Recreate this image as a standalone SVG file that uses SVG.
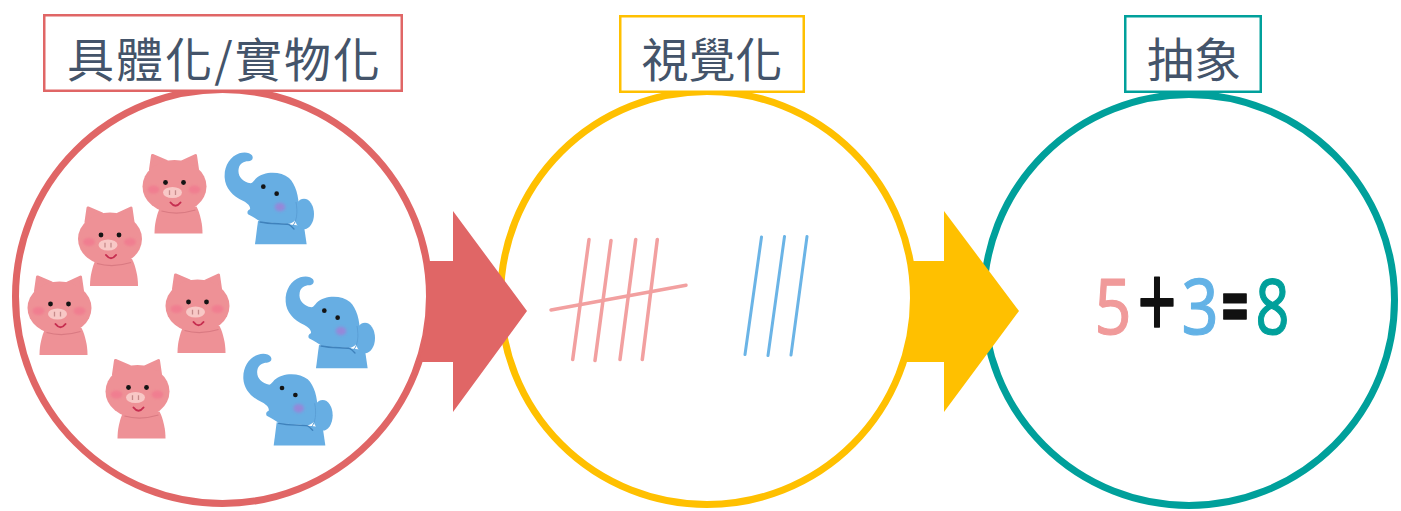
<svg xmlns="http://www.w3.org/2000/svg" width="1401" height="511" viewBox="0 0 1401 511">
  <style>
    .ring { fill: #ffffff; stroke-width: 7; }
    .tag { fill: #ffffff; stroke-width: 2.5; }
    .title { font-family: "Noto Sans CJK TC", "Noto Sans CJK SC", sans-serif; font-size: 47px; fill: #44546A; text-anchor: middle; dominant-baseline: central; }
    .red { stroke: #E06666; }
    .yellow { stroke: #FFC000; }
    .teal { stroke: #00A09B; }
    .tally-pink { stroke: #F2A0A0; stroke-width: 3.5; stroke-linecap: round; }
    .tally-blue { stroke: #6BB4E6; stroke-width: 3; stroke-linecap: round; }
    .eq { font-family: "Noto Sans", "DejaVu Sans", sans-serif; font-size: 76px; text-anchor: middle; stroke-width: 1.2; stroke-linejoin: round; }
  </style>
  <defs>
    <filter id="blushP" x="-50%" y="-50%" width="200%" height="200%"><feGaussianBlur stdDeviation="1.3"/></filter>
    <filter id="blushE" x="-50%" y="-50%" width="200%" height="200%"><feGaussianBlur stdDeviation="4"/></filter>
    <!-- pig, drawn around the centre of its head -->
    <g id="pig">
      <path d="M-14,20 C-18,28 -20,38 -20,47 L28,47 C28,38 26,28 22,20 Z" fill="#EE9196"/>
      <path d="M-24,-17 L-22,-31 L-8,-25 Z M8,-25 L21,-31 L23,-17 Z" fill="#EE9196" stroke="#EE9196" stroke-width="3" stroke-linejoin="round"/>
      <ellipse cx="0" cy="0" rx="32" ry="26.5" fill="#EE9196"/>
      <path d="M-13,24.5 Q3,29 21,23.5" fill="none" stroke="#D97A82" stroke-width="1.2"/>
      <ellipse cx="-21" cy="3" rx="6" ry="4" fill="#F2708C" opacity="0.55" filter="url(#blushP)"/>
      <ellipse cx="20" cy="3" rx="6" ry="4" fill="#F2708C" opacity="0.55" filter="url(#blushP)"/>
      <ellipse cx="-2" cy="6" rx="9.5" ry="5.5" fill="#F8C8C6"/>
      <path d="M-5,3.8 V8.4 M1,3.8 V8.4" stroke="#C58A8A" stroke-width="1.3"/>
      <circle cx="-9" cy="-4" r="2.4" fill="#141414"/>
      <circle cx="9" cy="-4" r="2.4" fill="#141414"/>
      <path d="M-4,16 Q1,22.5 6,16" fill="none" stroke="#C62E50" stroke-width="2" stroke-linecap="round"/>
    </g>
    <!-- elephant, drawn at 3x and scaled down where it is placed -->
    <g id="elephant">
      <path d="M252,225 L243,295 L398,295 L390,240 Z" fill="#67AEE3"/>
      <ellipse cx="390" cy="204" rx="30" ry="46" fill="#67AEE3"/>
      <path d="M230,112 C205,108 190,90 194,68 C197,52 210,46 222,46 C233,46 240,38 234,28 C228,19 210,17 196,22 C168,32 150,60 152,95 C154,125 175,150 208,165 C222,172 230,182 228,190 C222,192 218,198 222,205 C238,212 250,222 262,228 L340,234 C360,234 375,215 375,190 C375,150 365,115 345,96 C320,75 270,75 245,98 C240,104 236,110 230,112 Z" fill="#67AEE3"/>
      <path d="M258,228 C290,235 325,232 345,236 C352,240 356,245 360,249" fill="none" stroke="#3F82BC" stroke-width="4" stroke-linecap="round"/>
      <path d="M366,168 C372,200 368,225 356,240" fill="none" stroke="#5A9FD6" stroke-width="3"/>
      <circle cx="268" cy="122" r="7" fill="#141414"/>
      <circle cx="308" cy="143" r="7" fill="#141414"/>
      <ellipse cx="318" cy="183" rx="16" ry="13" fill="#A57CD6" opacity="0.75" filter="url(#blushE)"/>
    </g>
  </defs>

  <rect width="1401" height="511" fill="#ffffff"/>

  <!-- concrete objects -->
  <g id="node-concrete">
    <circle class="ring red" cx="222.5" cy="296.5" r="207"/>
    <rect class="tag red" x="44.25" y="15.25" width="357.5" height="75.5"/>
    <text class="title" x="223.5" y="56" textLength="313" lengthAdjust="spacing">具體化/實物化</text>
    <use href="#pig" transform="translate(174.5,186.5)"/>
    <use href="#pig" transform="translate(110,239)"/>
    <use href="#pig" transform="translate(59.5,308)"/>
    <use href="#pig" transform="translate(197.5,306)"/>
    <use href="#pig" transform="translate(137.5,391.5)"/>
    <use href="#elephant" transform="translate(174,146) scale(0.3333)"/>
    <use href="#elephant" transform="translate(235,270) scale(0.3333)"/>
    <use href="#elephant" transform="translate(192.7,347.3) scale(0.3333)"/>
  </g>

  <!-- tally marks -->
  <g id="node-visual">
    <circle class="ring yellow" cx="707" cy="298" r="206.5"/>
    <rect class="tag yellow" x="620.25" y="16.25" width="183.5" height="75.5"/>
    <text class="title" x="712" y="56">視覺化</text>
    <line class="tally-pink" x1="589" y1="239.5" x2="572.7" y2="359.5"/>
    <line class="tally-pink" x1="611" y1="240.5" x2="595" y2="360.5"/>
    <line class="tally-pink" x1="635.7" y1="239.5" x2="620" y2="359.5"/>
    <line class="tally-pink" x1="657.3" y1="239.5" x2="642.3" y2="359.5"/>
    <line class="tally-pink" x1="551" y1="310" x2="686" y2="285.3"/>
    <line class="tally-blue" x1="761.5" y1="237" x2="745" y2="354.5"/>
    <line class="tally-blue" x1="784.5" y1="236.5" x2="768" y2="355.5"/>
    <line class="tally-blue" x1="807" y1="236.5" x2="791" y2="355"/>
  </g>

  <!-- number sentence, each sign set to a hand-written width -->
  <g id="node-abstract">
    <circle class="ring teal" cx="1189" cy="300" r="205.5"/>
    <rect class="tag teal" x="1125.25" y="16.25" width="135.5" height="75.5"/>
    <text class="title" x="1194" y="56">抽象</text>
    <text class="eq" transform="translate(1113,334) scale(0.85,1)" fill="#F09A9A" stroke="#F09A9A">5</text>
    <text class="eq" transform="translate(1157,338) scale(0.9,1.35)" fill="#111111" stroke="#111111">+</text>
    <text class="eq" transform="translate(1200,334) scale(0.85,1)" fill="#63B2E6" stroke="#63B2E6">3</text>
    <text class="eq" transform="translate(1235,336) scale(0.62,1.1)" fill="#111111" stroke="#111111" font-weight="bold">=</text>
    <text class="eq" transform="translate(1272.5,334) scale(0.78,1.02)" fill="#00A09B" stroke="#00A09B">8</text>
  </g>

  <!-- block arrows between the stages -->
  <g id="connectors">
    <path d="M426.4,261 L453,261 L453,211 L527,311 L453,412 L453,362 L418.9,362 A207 207 0 0 0 426.4,261 Z" fill="#E06666"/>
    <path d="M910.2,261 L944,261 L944,211 L1019,311 L944,412 L944,362 L903.3,362 A206.5 206.5 0 0 0 910.2,261 Z" fill="#FFC000"/>
  </g>
</svg>
